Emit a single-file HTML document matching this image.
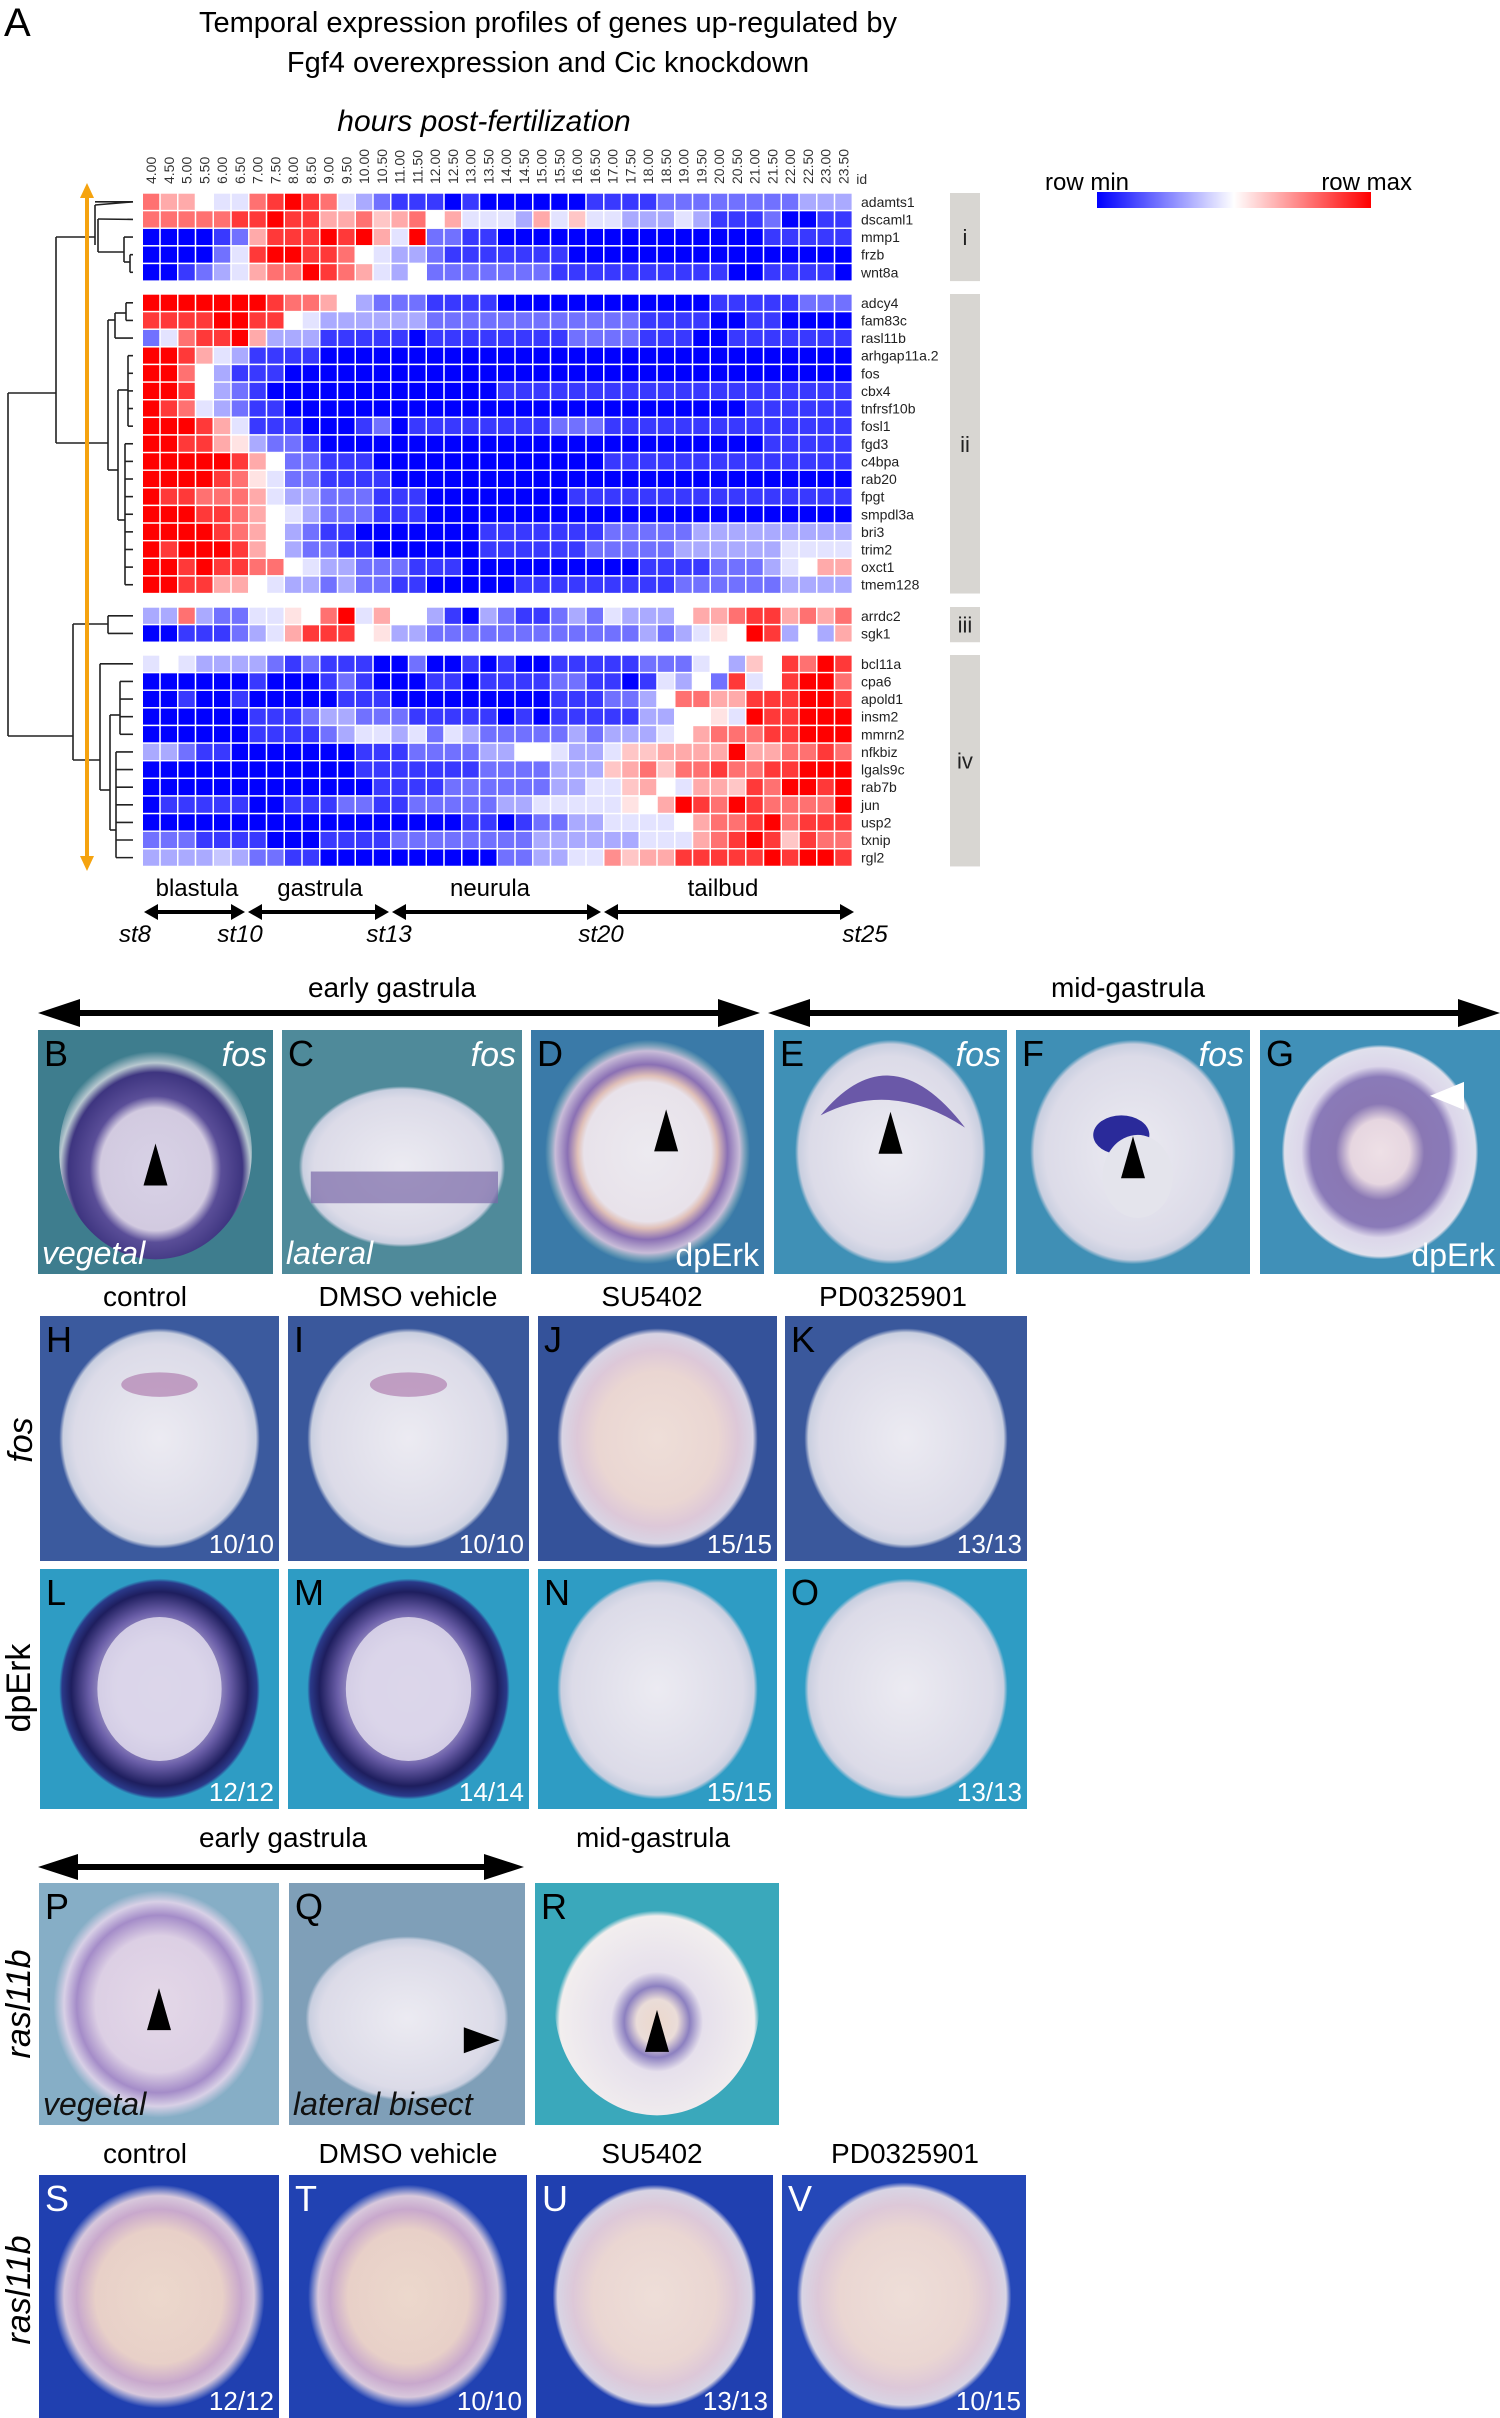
<!DOCTYPE html>
<html><head><meta charset="utf-8"><title>Temporal expression profiles</title>
<style>
html,body{margin:0;padding:0;background:#fff;}
body{width:1500px;height:2418px;overflow:hidden;font-family:"Liberation Sans",sans-serif;}
svg{display:block;}
</style></head>
<body>
<svg id="fig" width="1500" height="2418" viewBox="0 0 1500 2418" xmlns="http://www.w3.org/2000/svg" font-family="Liberation Sans, sans-serif">
<defs>
  <linearGradient id="legendGrad" x1="0" x2="1" y1="0" y2="0">
    <stop offset="0" stop-color="#0000ff"/><stop offset="0.5" stop-color="#ffffff"/><stop offset="1" stop-color="#ff0000"/>
  </linearGradient>
  <radialGradient id="gLight" cx="0.5" cy="0.5" r="0.5">
    <stop offset="0" stop-color="#ecebf2"/><stop offset="0.85" stop-color="#dcdbe8"/><stop offset="0.96" stop-color="#c9cfe0"/><stop offset="1" stop-color="#c9cfe0" stop-opacity="0"/>
  </radialGradient>
  <radialGradient id="gPink" cx="0.5" cy="0.5" r="0.5">
    <stop offset="0" stop-color="#eeded8"/><stop offset="0.6" stop-color="#ead6d2"/><stop offset="0.8" stop-color="#ddc8d8"/><stop offset="0.95" stop-color="#d8d4e4"/><stop offset="1" stop-color="#d8d4e4" stop-opacity="0"/>
  </radialGradient>
  <radialGradient id="gPinkRing" cx="0.5" cy="0.5" r="0.5">
    <stop offset="0" stop-color="#ecd8cc"/><stop offset="0.6" stop-color="#e8d0c8"/><stop offset="0.78" stop-color="#c8a8cc"/><stop offset="0.9" stop-color="#d8c8dc"/><stop offset="1" stop-color="#d8d4e4" stop-opacity="0"/>
  </radialGradient>
  <radialGradient id="gDark" cx="0.5" cy="0.5" r="0.5">
    <stop offset="0" stop-color="#dcd6ea"/><stop offset="0.45" stop-color="#cec6e2"/><stop offset="0.7" stop-color="#6a5ea8"/><stop offset="0.88" stop-color="#1e1e5e"/><stop offset="0.97" stop-color="#2a3a8a"/><stop offset="1" stop-color="#2a3a8a" stop-opacity="0"/>
  </radialGradient>
  <radialGradient id="gB" cx="0.5" cy="0.58" r="0.55">
    <stop offset="0" stop-color="#d8d2e6"/><stop offset="0.52" stop-color="#d2cae0"/><stop offset="0.62" stop-color="#5a4e98"/><stop offset="0.82" stop-color="#3e3580"/><stop offset="0.9" stop-color="#b8c8d0"/><stop offset="1" stop-color="#b8c8d0" stop-opacity="0"/>
  </radialGradient>
  <radialGradient id="gRingMid" cx="0.5" cy="0.5" r="0.5">
    <stop offset="0" stop-color="#eee0e6"/><stop offset="0.3" stop-color="#e6d6e0"/><stop offset="0.45" stop-color="#8a78b4"/><stop offset="0.7" stop-color="#8a7ab8"/><stop offset="0.8" stop-color="#dcd6ea"/><stop offset="0.97" stop-color="#e0e0ec"/><stop offset="1" stop-color="#e0e0ec" stop-opacity="0"/>
  </radialGradient>
  <radialGradient id="gRingD" cx="0.5" cy="0.5" r="0.5">
    <stop offset="0" stop-color="#eceaf0"/><stop offset="0.62" stop-color="#e8e2ea"/><stop offset="0.68" stop-color="#e0c0b8"/><stop offset="0.78" stop-color="#8a70b4"/><stop offset="0.9" stop-color="#c8bcd8"/><stop offset="1" stop-color="#a0c8c0" stop-opacity="0"/>
  </radialGradient>
  <radialGradient id="gRingR" cx="0.5" cy="0.58" r="0.5">
    <stop offset="0" stop-color="#ecd8cc"/><stop offset="0.2" stop-color="#eadcd8"/><stop offset="0.32" stop-color="#8c80c0"/><stop offset="0.45" stop-color="#e6e0ec"/><stop offset="0.95" stop-color="#f2eeee"/><stop offset="1" stop-color="#f2eeee" stop-opacity="0"/>
  </radialGradient>
  <radialGradient id="gRingP" cx="0.5" cy="0.5" r="0.5">
    <stop offset="0" stop-color="#e4d8e8"/><stop offset="0.6" stop-color="#dccfe4"/><stop offset="0.78" stop-color="#a48cc8"/><stop offset="0.9" stop-color="#d8d0e6"/><stop offset="1" stop-color="#d8d0e6" stop-opacity="0"/>
  </radialGradient>
</defs>

<text x="4" y="36" font-size="40">A</text>
<text x="548" y="32" font-size="29" text-anchor="middle">Temporal expression profiles of genes up-regulated by</text>
<text x="548" y="72" font-size="29" text-anchor="middle">Fgf4 overexpression and Cic knockdown</text>
<text x="484" y="131" font-size="30" font-style="italic" text-anchor="middle">hours post-fertilization</text>

<text x="1045" y="190" font-size="24">row min</text>
<text x="1412" y="190" font-size="24" text-anchor="end">row max</text>
<rect x="1097" y="192" width="274" height="16" fill="url(#legendGrad)"/>

<g id="heatmap"></g>
<g id="dendro" stroke="#222" stroke-width="1.6" fill="none"></g>

<g>
  <line x1="87" y1="196" x2="87" y2="858" stroke="#f5a30f" stroke-width="4"/>
  <polygon points="80,198 94,198 87,183" fill="#f5a30f"/>
  <polygon points="80,856 94,856 87,871" fill="#f5a30f"/>
</g>

<g font-size="24">
  <text x="197" y="896" text-anchor="middle">blastula</text>
  <text x="320" y="896" text-anchor="middle">gastrula</text>
  <text x="490" y="896" text-anchor="middle">neurula</text>
  <text x="723" y="896" text-anchor="middle">tailbud</text>
</g>
<g id="stageArrows"></g>
<g font-size="24" font-style="italic" text-anchor="middle">
  <text x="135" y="942">st8</text>
  <text x="240" y="942">st10</text>
  <text x="389" y="942">st13</text>
  <text x="601" y="942">st20</text>
  <text x="865" y="942">st25</text>
</g>

<g font-size="28" text-anchor="middle">
  <text x="392" y="997">early gastrula</text>
  <text x="1128" y="997">mid-gastrula</text>
  <text x="145" y="1306">control</text>
  <text x="408" y="1306">DMSO vehicle</text>
  <text x="652" y="1306">SU5402</text>
  <text x="893" y="1306">PD0325901</text>
  <text x="283" y="1847">early gastrula</text>
  <text x="653" y="1847">mid-gastrula</text>
  <text x="145" y="2163">control</text>
  <text x="408" y="2163">DMSO vehicle</text>
  <text x="652" y="2163">SU5402</text>
  <text x="905" y="2163">PD0325901</text>
</g>
<g id="bigArrows"></g>

<g font-size="34" font-style="italic" text-anchor="middle">
  <text transform="translate(32,1440) rotate(-90)">fos</text>
  <text font-style="normal" transform="translate(30,1688) rotate(-90)">dpErk</text>
  <text transform="translate(30,2004) rotate(-90)">rasl11b</text>
  <text transform="translate(30,2290) rotate(-90)">rasl11b</text>
</g>

<g id="panels"></g>
</svg>

<script>
var hours = ["4.00","4.50","5.00","5.50","6.00","6.50","7.00","7.50","8.00","8.50","9.00","9.50","10.00","10.50","11.00","11.50","12.00","12.50","13.00","13.50","14.00","14.50","15.00","15.50","16.00","16.50","17.00","17.50","18.00","18.50","19.00","19.50","20.00","20.50","21.00","21.50","22.00","22.50","23.00","23.50"];
var genesI = ["adamts1","dscaml1","mmp1","frzb","wnt8a"];
var genesII = ["adcy4","fam83c","rasl11b","arhgap11a.2","fos","cbx4","tnfrsf10b","fosl1","fgd3","c4bpa","rab20","fpgt","smpdl3a","bri3","trim2","oxct1","tmem128"];
var genesIII = ["arrdc2","sgk1"];
var genesIV = ["bcl11a","cpa6","apold1","insm2","mmrn2","nfkbiz","lgals9c","rab7b","jun","usp2","txnip","rgl2"];
var clusterNames = ["i","ii","iii","iv"];
var valuesI = [
 [7,6,6,4.5,4,4,7,8,9,8,7,4,3,2,1,1,1,0,1,0,0,0,0,0,0,1,1,1,1,2,2,2,2,2,2,2,2,3,3,3],
 [7,7,7,7,7,8,8,9,8,8,6,6,7,5.5,6,7,4.5,6,4,4,4,3,6,4,5.5,4,4,3,3,3,4,3,1,1,1,2,0,0,1,1],
 [0,0,0,0,1,2,6,8,8,8,9,8,9,6,4,9,2,2,1,1,0,0,0,0,0,0,0,0,0,0,0,0,0,0,0,1,1,1,1,1],
 [0,0,0,0,2,4,8,9,9,8,8,7,4.5,4,3,3,2,1,1,1,1,1,1,1,0,0,0,0,0,0,0,0,0,0,0,0,0,0,0,0],
 [0,0,1,2,3,4,6,7,7,9,8,7,6,4,3,4.5,2,2,2,2,2,2,2,1,1,1,1,1,1,1,1,1,1,0,0,1,1,1,1,0]
];
var valuesII = [
 [9,9,9,9,9,9,9,8,7,7,6,4.5,3,2,2,2,1,1,1,1,0,0,0,0,0,0,0,0,0,0,0,0,1,1,1,1,1,2,2,2],
 [8,8,8,8,9,9,8,8,4.5,4,3,3,3,3,3,3,2,2,2,2,2,2,2,2,2,2,2,2,1,1,1,1,0,0,1,1,0,0,0,0],
 [2,4,7,8,8,9,6,3,3,3,1,1,1,1,1,0,1,1,1,1,1,1,1,1,2,2,2,2,1,1,1,0,0,1,1,1,1,1,1,1],
 [9,9,8,6,4,3,1,1,1,1,0,0,0,0,0,0,0,0,0,0,0,0,0,0,0,0,0,0,0,0,0,0,0,0,0,0,0,0,0,0],
 [9,9,7,4.5,3,1,1,1,0,0,0,0,0,0,0,0,0,0,0,0,0,0,0,0,0,0,0,0,0,0,0,0,0,0,0,0,0,0,0,0],
 [9,9,8,4.5,3,2,1,0,0,0,0,0,0,0,0,0,0,0,0,0,1,1,1,1,1,1,1,1,1,1,1,1,1,1,1,1,1,1,1,1],
 [9,8,7,4,3,2,1,1,0,0,0,0,0,0,0,0,0,0,0,0,0,0,0,0,0,0,0,0,0,0,0,0,0,0,1,1,1,1,1,1],
 [9,9,9,8,6,4,1,1,1,0,0,0,1,2,0,1,1,1,1,1,1,1,1,2,2,2,1,1,1,1,1,1,1,1,1,1,1,1,1,1],
 [9,9,8,8,6,5,3,2,2,1,0,0,0,0,0,0,0,0,0,0,0,0,0,0,0,0,0,0,0,0,0,0,0,0,0,1,1,1,1,1],
 [9,9,9,9,9,8,6,4.5,2,2,1,1,1,0,0,0,0,0,0,0,0,0,0,0,0,0,1,1,1,1,1,1,1,1,1,1,1,1,1,1],
 [9,9,9,9,8,7,5,4,2,2,1,1,1,1,0,0,0,0,0,0,0,0,0,0,0,0,0,0,0,0,0,0,0,0,0,0,0,0,0,0],
 [9,8,8,7,7,7,6,4,3,3,2,2,2,1,1,1,0,0,0,0,0,0,0,0,1,1,1,1,1,1,1,1,1,1,1,1,1,1,1,1],
 [9,9,9,8,8,7,6,4.5,4,3,2,2,2,1,1,1,0,0,0,0,0,0,0,0,0,0,0,0,0,0,0,0,0,0,0,0,0,0,0,0],
 [9,9,9,9,8,7,6,4.5,3,2,1,1,0,0,0,0,0,0,0,1,1,1,1,1,1,1,2,2,2,2,2,3,3,3,3,3,3,3,3,3],
 [9,8,9,9,9,8,6,4.5,3,2,2,1,1,0,0,0,0,0,0,1,1,1,1,1,1,2,2,2,2,2,3,3,3,3,3,3,4,4,4,4],
 [9,9,8,9,8,8,7,7,4.5,4,3,3,2,2,2,1,1,1,0,0,0,0,0,0,0,0,0,0,1,1,1,1,2,2,2,3,4,4.5,6,6],
 [9,9,8,8,6,6,4.5,4,3,3,2,3,2,2,1,1,0,0,0,0,0,1,1,1,1,1,1,1,1,1,2,2,2,2,2,2,3,3,3,3]
];
var valuesIII = [
 [3,3,7,3,2,2,4,4,5,4.5,7,9,4,6,4.5,4.5,3,1,0,3,2,1,1,2,3,2,4,3,3,3,4.5,6,6,7,8,8,6,7,6,7],
 [0,0,1,1,1,2,3,4,6,8,8,8,4.5,5,3,3,2,2,2,2,2,2,2,2,2,2,2,2,3,2,3,4,5,4.5,9,8,3,4.5,3,6]
];
var valuesIV = [
 [4,4.5,4,3,3,3,3,2,1,2,1,1,1,0,0,2,0,0,1,0,1,0,0,1,1,1,1,1,2,2,2,4,4.5,3,5.5,4.5,8,7,9,8],
 [0,0,0,0,0,0,1,0,0,0,1,2,1,0,0,0,1,1,0,1,1,1,1,2,2,1,1,0,1,4,3,4.5,2,8,4,4.5,8,9,9,7],
 [0,0,1,0,0,1,0,0,0,0,0,1,1,1,0,0,0,0,0,0,0,0,0,1,1,1,2,2,3,4.5,7,7,6,6,8,8,8,9,9,8],
 [0,0,0,0,0,0,1,1,1,2,3,3,2,2,2,1,1,1,1,1,0,1,0,1,1,1,1,1,3,3,4.5,4.5,5,4,9,8,8,9,9,9],
 [0,0,0,0,0,0,1,1,1,1,2,3,4,4,3,4,2,4,3,2,2,2,2,2,3,2,3,3,3,4,4.5,6,7,7,7,8,8,9,9,9],
 [3,3,2,1,1,0,0,0,0,0,0,0,1,1,1,2,2,2,2,3,3,4.5,4.5,4,3,3,4,5.5,5.5,6,6,6,6,9,6,6,7,7,8,7],
 [0,0,0,0,0,0,0,0,0,0,0,0,1,1,1,1,1,1,1,2,2,2,2,3,3,3,5.5,6,7,5.5,7,7,8,7,7,8,8,9,9,9],
 [0,0,0,0,0,0,0,0,0,0,0,0,0,1,1,1,1,2,2,2,2,2,2,3,3,4,4,5.5,6,4.5,4,6,6,5.5,8,7,9,9,8,9],
 [0,1,1,1,1,1,0,0,1,1,1,2,2,1,1,2,2,2,2,2,3,3,4,4,4,4,4,5,4.5,6,9,8,7,9,8,7,7,7,7,9],
 [0,0,0,0,0,0,0,0,0,0,0,0,0,0,0,0,0,0,1,1,0,1,2,2,3,3,4,4,4,4,4.5,6,7,7,8,9,7,8,8,8],
 [2,2,2,1,1,1,1,0,0,0,1,1,1,1,2,2,2,2,2,2,2,2,3,3,3,3,3,3,4,4,4,6,7,8,9,8,5.5,8,7,7],
 [3,3,3,3,3.5,3,2,2,1,1,0,0,0,0,0,0,0,0,0,0,2,2,3,3,4,4,6.5,5.5,6,6,8,8,8,8,8,9,8,9,9,8]
];

var NS = "http://www.w3.org/2000/svg";
function mk(tag, attrs, parent){ var e=document.createElementNS(NS,tag); for(var k in attrs) e.setAttribute(k,attrs[k]); if(parent) parent.appendChild(e); return e; }

var X0 = 142.3, CW = 17.75, RH = 17.62;
function xScale(i){ return X0 + i*CW; }
function colorScale(v){
  var t = v/9, r,g,b;
  if(t<=0.5){ var f=t/0.5; r=Math.round(255*f); g=r; b=255; }
  else { var f2=(t-0.5)/0.5; r=255; g=Math.round(255*(1-f2)); b=g; }
  return "rgb("+r+","+g+","+b+")";
}
var groups = [
  {genes:genesI, vals:valuesI, top:193},
  {genes:genesII, vals:valuesII, top:294},
  {genes:genesIII, vals:valuesIII, top:607},
  {genes:genesIV, vals:valuesIV, top:655}
];
function yScale(g, r){ return groups[g].top + r*RH; }

var hm = document.getElementById('heatmap');
hours.forEach(function(h,i){
  var cx = xScale(i)+CW/2+5;
  var t = mk('text',{x:0,y:0,'font-size':14,fill:'#333',transform:'translate('+cx+',184) rotate(-90)'},hm);
  
  
  t.textContent = h;
});
var idl = mk('text',{x:xScale(hours.length)+4,y:184,'font-size':14,fill:'#333'},hm);


idl.textContent='id';

groups.forEach(function(grp,gi){
  grp.vals.forEach(function(row,ri){
    row.forEach(function(v,ci){
      var c = mk('rect',{x:xScale(ci),y:yScale(gi,ri),width:CW,height:RH,fill:colorScale(v),stroke:'#fff','stroke-width':1.4},hm);
      
      
    });
    var lab = mk('text',{x:861,y:yScale(gi,ri)+RH/2+5,'font-size':14,fill:'#222'},hm);
    
    
    lab.textContent = grp.genes[ri];
  });
  var top = grp.top, bot = yScale(gi, grp.genes.length);
  var bar = mk('rect',{x:950,y:top,width:30,height:bot-top,fill:'#d8d6d2'},hm);
  
  
  var cl = mk('text',{x:965,y:(top+bot)/2+8,'font-size':22,'text-anchor':'middle',fill:'#222'},hm);
  
  
  cl.textContent = clusterNames[gi];
});

var dg = document.getElementById('dendro');
function ln(x1,y1,x2,y2){ var l=mk('line',{x1:x1,y1:y1,x2:x2,y2:y2},dg);   }
function rc(g,r){ return yScale(g,r)+RH/2; }
ln(8,393,8,736); ln(8,393,56,393); ln(8,736,73,736);
ln(56,237,56,443); ln(56,237,95,237); ln(56,443,108,443);
ln(95,205,95,245); ln(95,205,133,rc(0,0)); ln(95,rc(0,0),133,rc(0,0));
ln(98,219,98,252); ln(98,219,133,rc(0,1)); ln(98,252,124,252);
ln(124,rc(0,2),124,262); ln(124,rc(0,2),133,rc(0,2)); ln(124,262,130,262);
ln(130,rc(0,3),130,rc(0,4)); ln(130,rc(0,3),133,rc(0,3)); ln(130,rc(0,4),133,rc(0,4));
ln(108,320,108,470); ln(108,320,115,320); ln(108,470,118,470);
ln(115,rc(1,2),115,313); ln(115,rc(1,2),133,rc(1,2)); ln(115,313,126,313);
ln(126,rc(1,0),126,rc(1,1)); ln(126,rc(1,0),133,rc(1,0)); ln(126,rc(1,1),133,rc(1,1));
ln(118,390,118,520); ln(118,390,128,390); ln(118,520,125,520);
ln(128,rc(1,3),128,rc(1,7)); ln(125,rc(1,8),125,rc(1,16));
for(var r=3;r<=7;r++) ln(128,rc(1,r),133,rc(1,r));
for(var r2=8;r2<=16;r2++) ln(125,rc(1,r2),133,rc(1,r2));
ln(73,624,73,760); ln(73,624,108,624);
ln(108,rc(2,0),108,rc(2,1)); ln(108,rc(2,0),133,rc(2,0)); ln(108,rc(2,1),133,rc(2,1));
ln(73,760,100,760); ln(100,rc(3,0),100,790); ln(100,rc(3,0),133,rc(3,0)); ln(100,790,110,790);
ln(110,715,110,830); ln(110,715,120,715); ln(110,830,116,830);
ln(120,rc(3,1),120,rc(3,4)); for(var r3=1;r3<=4;r3++) ln(120,rc(3,r3),133,rc(3,r3));
ln(116,rc(3,5),116,rc(3,11)); for(var r4=5;r4<=11;r4++) ln(116,rc(3,r4),133,rc(3,r4));

function dblArrow(parent,x1,x2,y,th,hw,hl,name){
  var g = mk('g',{},parent);
  
  
  mk('line',{x1:x1+hl-1,y1:y,x2:x2-hl+1,y2:y,stroke:'#000','stroke-width':th},g);
  mk('polygon',{points:x1+','+y+' '+(x1+hl)+','+(y-hw)+' '+(x1+hl)+','+(y+hw),fill:'#000'},g);
  mk('polygon',{points:x2+','+y+' '+(x2-hl)+','+(y-hw)+' '+(x2-hl)+','+(y+hw),fill:'#000'},g);
}
var sa = document.getElementById('stageArrows');
dblArrow(sa,144,245,912,4,8,14,'arrow-blastula');
dblArrow(sa,248,389,912,4,8,14,'arrow-gastrula');
dblArrow(sa,392,601,912,4,8,14,'arrow-neurula');
dblArrow(sa,604,854,912,4,8,14,'arrow-tailbud');
var ba = document.getElementById('bigArrows');
dblArrow(ba,38,760,1013,6,14,42,'arrow-early-gastrula');
dblArrow(ba,768,1500,1013,6,14,42,'arrow-mid-gastrula');
dblArrow(ba,38,524,1867,6,13,40,'arrow-early-gastrula-2');

var pg = document.getElementById('panels');
var panels = [
 ['B',38,1030,235,244,'#3e7d8e','gB',0.41,0.44,'#000','fos','vegetal',''],
 ['C',282,1030,240,244,'#4f8a9a','gLight',0.43,0.33,'#000','fos','lateral',''],
 ['D',531,1030,233,244,'#3a7aa8','gRingD',0.44,0.46,'#000','','','dpErk'],
 ['E',774,1030,233,244,'#3f90b6','gLight',0.41,0.46,'#000','fos','',''],
 ['F',1016,1030,234,244,'#3f8fb5','gLight',0.44,0.46,'#000','fos','',''],
 ['G',1260,1030,240,244,'#4090b8','gRingMid',0.41,0.44,'#000','','','dpErk'],
 ['H',40,1316,239,245,'#3b5a9e','gLight',0.42,0.45,'#000','','','10/10'],
 ['I',288,1316,241,245,'#3a589c','gLight',0.42,0.45,'#000','','','10/10'],
 ['J',538,1316,239,245,'#34529a','gPink',0.42,0.45,'#000','','','15/15'],
 ['K',785,1316,242,245,'#3a589c','gLight',0.42,0.45,'#000','','','13/13'],
 ['L',40,1569,239,240,'#2e9cc4','gDark',0.42,0.46,'#000','','','12/12'],
 ['M',288,1569,241,240,'#2e9cc4','gDark',0.42,0.46,'#000','','','14/14'],
 ['N',538,1569,239,240,'#2e9cc4','gLight',0.42,0.46,'#000','','','15/15'],
 ['O',785,1569,242,240,'#2e9cc4','gLight',0.42,0.46,'#000','','','13/13'],
 ['P',39,1883,240,242,'#86aec6','gRingP',0.44,0.47,'#000','','vegetal',''],
 ['Q',289,1883,236,242,'#7f9fb8','gLight',0.43,0.34,'#000','','lateral bisect',''],
 ['R',535,1883,244,242,'#3aa8bb','gRingR',0.42,0.46,'#000','','',''],
 ['S',39,2175,240,243,'#2040b0','gPinkRing',0.44,0.46,'#fff','','','12/12'],
 ['T',289,2175,238,243,'#2142b2','gPinkRing',0.42,0.46,'#fff','','','10/10'],
 ['U',536,2175,237,243,'#2040b0','gPink',0.43,0.46,'#fff','','','13/13'],
 ['V',782,2175,244,243,'#2548b8','gPink',0.44,0.47,'#fff','','','10/15']
];
var arrowMarks = {B:[0.5,0.58,'#000','up'],D:[0.58,0.44,'#000','up'],E:[0.5,0.45,'#000','up'],F:[0.5,0.55,'#000','up'],G:[0.8,0.27,'#fff','left'],P:[0.5,0.55,'#000','up'],Q:[0.8,0.65,'#000','right'],R:[0.5,0.64,'#000','up']};
panels.forEach(function(p){
  var L=p[0],x=p[1],y=p[2],w=p[3],h=p[4];
  var g = mk('g',{},pg);
  
  
  mk('rect',{x:x,y:y,width:w,height:h,fill:p[5]},g);
  var cy = (L==='C'||L==='Q') ? y+h*0.56 : y+h*0.5;
  mk('ellipse',{cx:x+w/2,cy:cy,rx:w*p[7],ry:h*p[8],fill:'url(#'+p[6]+')'},g);
  if(L==='C'){ mk('rect',{x:x+w*0.12,y:y+h*0.58,width:w*0.78,height:h*0.13,fill:'#7a6aa8',opacity:0.7},g); }
  if(L==='E'){ mk('path',{d:'M'+(x+w*0.2)+' '+(y+h*0.35)+' Q'+(x+w*0.5)+' '+(y+h*0.0)+' '+(x+w*0.82)+' '+(y+h*0.4)+' Q'+(x+w*0.5)+' '+(y+h*0.2)+' '+(x+w*0.2)+' '+(y+h*0.35)+'Z',fill:'#6a58a8'},g); }
  if(L==='F'){ mk('ellipse',{cx:x+w*0.45,cy:y+h*0.43,rx:w*0.12,ry:h*0.08,fill:'#2a2a9a'},g); mk('ellipse',{cx:x+w*0.52,cy:y+h*0.6,rx:w*0.15,ry:h*0.17,fill:'#e4e4ec'},g); }
  if(L==='H'||L==='I'){ mk('ellipse',{cx:x+w*0.5,cy:y+h*0.28,rx:w*0.16,ry:h*0.05,fill:'#b080b0',opacity:0.7},g); }
  if(L==='L'||L==='M'){ mk('ellipse',{cx:x+w*0.5,cy:y+h*0.5,rx:w*0.26,ry:h*0.3,fill:'#dcd6ea',opacity:0.9},g); }
  var lt = mk('text',{x:x+6,y:y+36,'font-size':36,fill:p[9]},g);
  
  
  lt.textContent = L;
  if(p[10]){ var t1=mk('text',{x:x+w-6,y:y+36,'font-size':34,'font-style':'italic','text-anchor':'end',fill:'#fff'},g);   t1.textContent=p[10]; }
  if(p[11]){ var t2=mk('text',{x:x+4,y:y+h-10,'font-size':32,'font-style':'italic',fill:(L==='P'||L==='Q')?'#111':'#fff'},g);   t2.textContent=p[11]; }
  if(p[12]){ var big=p[12]==='dpErk'; var t3=mk('text',{x:x+w-5,y:y+h-8,'font-size':big?32:26,'text-anchor':'end',fill:'#fff'},g);   t3.textContent=p[12]; }
  var a = arrowMarks[L];
  if(a){
    var ax=x+w*a[0], ay=y+h*a[1], pts;
    if(a[3]==='up') pts = ax+','+(ay-28)+' '+(ax-12)+','+(ay+14)+' '+(ax+12)+','+(ay+14);
    else if(a[3]==='left') pts = (ax-22)+','+ay+' '+(ax+12)+','+(ay-14)+' '+(ax+12)+','+(ay+14);
    else pts = (ax+22)+','+ay+' '+(ax-14)+','+(ay-13)+' '+(ax-14)+','+(ay+13);
    var ar = mk('polygon',{points:pts,fill:a[2]},g);
    
    
  }
});
</script>
</body></html>
